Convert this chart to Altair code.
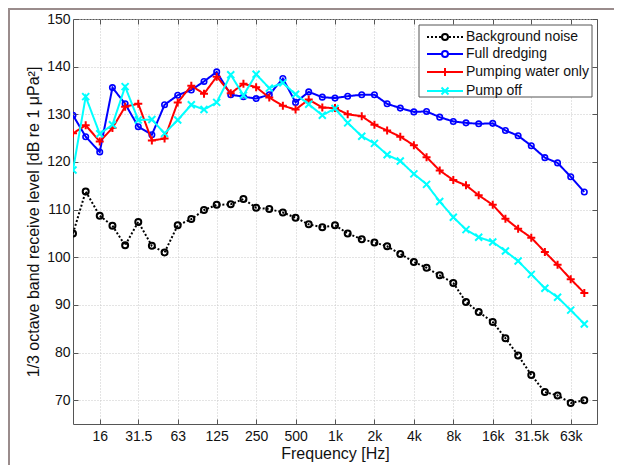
import altair as alt
import pandas as pd

# 1/3-octave band centre frequencies (Hz)
freqs = [10, 12.5, 16, 20, 25, 31.5, 40, 50, 63, 80, 100, 125, 160, 200, 250, 315,
         400, 500, 630, 800, 1000, 1250, 1600, 2000, 2500, 3150, 4000, 5000, 6300,
         8000, 10000, 12500, 16000, 20000, 25000, 31500, 40000, 50000, 63000, 80000]

background = [105.0, 113.8, 108.7, 106.6, 102.5, 107.4, 102.4, 101.0, 106.7, 108.0,
              109.9, 111.0, 111.1, 112.2, 110.4, 110.1, 109.4, 108.3, 106.9, 106.3,
              106.7, 105.0, 103.8, 103.1, 102.3, 100.7, 99.0, 97.8, 96.2, 94.6,
              90.6, 88.5, 86.4, 83.0, 79.4, 75.3, 71.7, 71.0, 69.4, 70.0]

full_dredging = [129.8, 125.3, 122.1, 135.6, 132.2, 127.4, 125.7, 132.0, 134.0, 135.1,
                 136.9, 138.9, 134.1, 133.7, 133.3, 134.1, 137.5, 132.5, 134.7, 133.6,
                 133.4, 133.8, 134.1, 134.1, 132.2, 131.3, 130.5, 130.6, 129.4, 128.5,
                 128.2, 128.0, 128.1, 126.6, 125.5, 123.4, 120.9, 119.8, 116.9, 113.7]

pumping_water = [126.0, 127.7, 124.3, 127.1, 131.6, 132.2, 124.5, 124.9, 132.5, 136.0,
                 134.3, 137.9, 134.4, 136.4, 135.7, 133.5, 131.8, 131.0, 133.1, 131.4,
                 131.3, 130.0, 129.6, 127.8, 126.6, 125.3, 123.5, 121.0, 118.2, 116.2,
                 115.1, 113.0, 111.0, 108.1, 106.0, 104.1, 101.1, 98.4, 95.4, 92.5]

pump_off = [118.3, 133.7, 125.9, 127.8, 135.8, 128.8, 128.9, 126.0, 128.8, 132.0,
            131.0, 132.5, 138.3, 134.0, 138.4, 135.5, 136.6, 134.2, 132.1, 129.8,
            131.2, 128.2, 125.4, 123.9, 121.5, 120.2, 117.5, 115.3, 111.7, 108.4,
            105.8, 104.2, 103.2, 101.3, 99.2, 96.4, 93.5, 91.6, 88.9, 86.0]

series_names = ["Background noise", "Full dredging", "Pumping water only", "Pump off"]
series_values = [background, full_dredging, pumping_water, pump_off]
series_colors = ["#000000", "#0000ff", "#ff0000", "#00ffff"]

x_ticks = [16, 31.5, 63, 125, 250, 500, 1000, 2000, 4000, 8000, 16000, 31500, 63000]
y_ticks = [70, 80, 90, 100, 110, 120, 130, 140, 150]

rows = []
for name, vals in zip(series_names, series_values):
    for f, v in zip(freqs, vals):
        rows.append({"freq": f, "level": v, "series": name})
df = pd.DataFrame(rows)

FONT = "Liberation Sans"
AXIS_GREY = "#555555"

xscale = alt.Scale(type="log", domain=[10, 100000], nice=False)
yscale = alt.Scale(domain=[65, 150], nice=False, zero=False)

X_main = alt.X("freq:Q", scale=xscale,
               axis=alt.Axis(values=x_ticks, title="Frequency [Hz]",
                             labelExpr="datum.value >= 1000 ? (datum.value/1000) + 'k' : '' + datum.value",
                             labelPadding=5, titlePadding=2, labelFlush=False, labelOverlap=False))
Y_main = alt.Y("level:Q", scale=yscale,
               axis=alt.Axis(values=y_ticks, title="1/3 octave band receive level [dB re 1 \u03bcPa\u00b2]",
                             labelPadding=3, titlePadding=5))
X_none = alt.X("freq:Q", scale=xscale, axis=None)
Y_none = alt.Y("level:Q", scale=yscale, axis=None)


def tick_axis(orient, values):
    return alt.Axis(orient=orient, values=values, labels=False, ticks=True, tickSize=5,
                    offset=-5, grid=False, domain=False, title=None, tickColor=AXIS_GREY,
                    tickWidth=1)


marker_shapes = [
    "circle",
    "circle",
    "M-1,0L1,0M0,-1L0,1",
    "M-1,-1L1,1M-1,1L1,-1",
]
marker_sizes = [36, 30, 64, 49]
marker_strokes = [2, 1.6, 2, 2]

legend_paths = [
    "M-3.6,0L-3.2,0M-2.8,0L-2.4,0M-2.0,0L-1.6,0M-1.2,0L-0.8,0M0.8,0L1.2,0M1.6,0L2.0,0M2.4,0L2.8,0M3.2,0L3.6,0"
    "M0.6,0A0.6,0.6 0 1,1 -0.6,0A0.6,0.6 0 1,1 0.6,0",
    "M-3.6,0L-0.6,0M0.6,0L3.6,0M0.6,0A0.6,0.6 0 1,1 -0.6,0A0.6,0.6 0 1,1 0.6,0",
    "M-3.6,0L3.6,0M0,-0.8L0,0.8",
    "M-3.6,0L3.6,0M-0.7,-0.7L0.7,0.7M-0.7,0.7L0.7,-0.7",
]

layers = []

# figure frame (decoration)
frame_df = pd.DataFrame({"a": [0]})
layers.append(alt.Chart(frame_df).mark_rule(color="#9a8c8c", strokeWidth=2).encode(
    x=alt.value(-64), y=alt.value(-11), y2=alt.value(460)))
layers.append(alt.Chart(frame_df).mark_rule(color="#9a8c8c", strokeWidth=2).encode(
    x=alt.value(-66), x2=alt.value(560), y=alt.value(-10)))

first = True
for i, name in enumerate(series_names):
    sub = df[df["series"] == name]
    dash = [2, 2] if i == 0 else [1, 0]
    xe, ye = (X_main, Y_main) if first else (X_none, Y_none)
    first = False
    layers.append(alt.Chart(sub).mark_line(color=series_colors[i], strokeWidth=2,
                                           strokeDash=dash, clip=True).encode(x=xe, y=ye))
    layers.append(alt.Chart(sub).mark_point(shape=marker_shapes[i], size=marker_sizes[i],
                                            filled=False, color=series_colors[i],
                                            strokeWidth=marker_strokes[i], opacity=1,
                                            clip=True).encode(x=X_none, y=Y_none))

# inward tick marks on all four sides (MATLAB style)
empty = alt.Chart(df).transform_filter("datum.level > 1000")
layers.append(empty.mark_point().encode(
    x=alt.X("freq:Q", scale=xscale, axis=tick_axis("top", x_ticks)), y=Y_none))
layers.append(empty.mark_point().encode(
    x=alt.X("freq:Q", scale=xscale, axis=tick_axis("bottom", x_ticks)), y=Y_none))
layers.append(empty.mark_point().encode(
    x=X_none, y=alt.Y("level:Q", scale=yscale, axis=tick_axis("left", y_ticks))))
layers.append(empty.mark_point().encode(
    x=X_none, y=alt.Y("level:Q", scale=yscale, axis=tick_axis("right", y_ticks))))

# legend box (decoration)
layers.append(alt.Chart(frame_df).mark_rect(fill="white", stroke=AXIS_GREY, strokeWidth=1).encode(
    x=alt.value(346), x2=alt.value(519), y=alt.value(6), y2=alt.value(78)))

# legend-only layer (no data rows drawn)
legend_layer = empty.mark_point(filled=False, strokeWidth=2, opacity=1).encode(
    x=X_none, y=Y_none,
    color=alt.Color("series:N", scale=alt.Scale(domain=series_names, range=series_colors),
                    legend=alt.Legend(title=None)),
    shape=alt.Shape("series:N", scale=alt.Scale(domain=series_names, range=legend_paths),
                    legend=alt.Legend(title=None)),
)
layers.append(legend_layer)

chart = alt.layer(*layers).resolve_axis(x="independent", y="independent").properties(
    width=524, height=405,
    autosize=alt.AutoSizeParams(type="none"),
    padding={"left": 65, "top": 11, "right": 17, "bottom": 41},
    background="white",
).configure_axis(
    labelFont=FONT, labelFontSize=14, labelColor="#111111",
    titleFont=FONT, titleFontSize=16, titleFontWeight="normal", titleColor="#111111",
    grid=True, gridColor="#c8c8c8", gridDash=[1, 2], gridWidth=1,
    domain=False, ticks=False,
).configure_view(
    stroke=AXIS_GREY, strokeWidth=1,
).configure_legend(
    orient="none", legendX=346, legendY=6,
    labelFont=FONT, labelFontSize=14, labelColor="#111111",
    symbolSize=100, symbolStrokeWidth=2, symbolOffset=14, labelOffset=14,
    padding=5, rowPadding=3, strokeColor="transparent",
    cornerRadius=0,
)

chart.save("out.html", embed_options={"renderer": "svg", "actions": False})
